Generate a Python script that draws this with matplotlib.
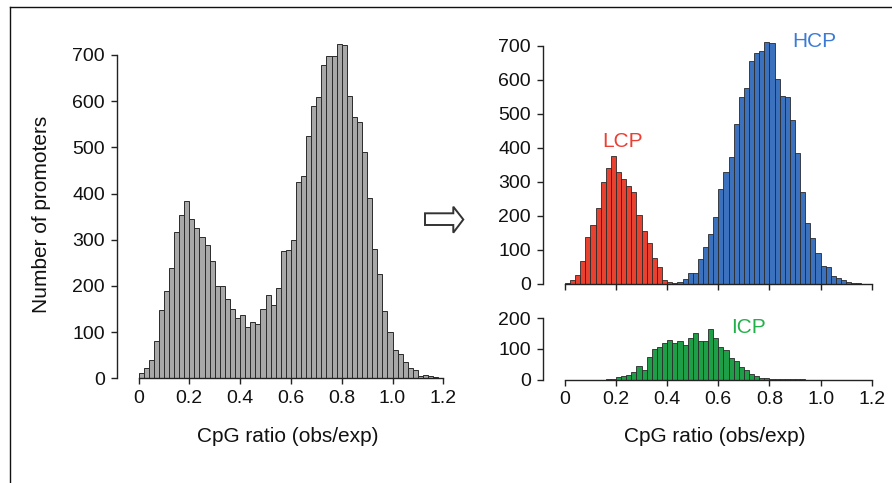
import numpy as np
import matplotlib
matplotlib.use("Agg")
import matplotlib.pyplot as plt
from matplotlib.patches import Polygon
from matplotlib.lines import Line2D

plt.rcParams['font.family'] = ['Liberation Sans', 'DejaVu Sans']

# ---- data (bins of width 0.02 from 0 to 1.2) ----
bin_width = 0.02
bin_edges = np.round(np.arange(0, 1.2 + 1e-9, bin_width), 2)
bin_starts = bin_edges[:-1]

all_counts = [11, 22, 40, 80, 148, 188, 238, 316, 354, 384,
              344, 325, 305, 289, 253, 199, 199, 171, 150, 130,
              137, 110, 121, 118, 150, 180, 159, 196, 276, 278,
              299, 426, 439, 525, 590, 610, 678, 697, 697, 724,
              722, 612, 566, 554, 491, 390, 281, 225, 145, 101,
              61, 53, 35, 22, 18, 4, 7, 4, 2, 1]

lcp_counts = [4, 12, 27, 69, 137, 175, 225, 301, 342, 377,
              328, 308, 289, 272, 203, 155, 120, 76, 49, 13,
              5, 0, 0, 0, 0, 0, 0, 0, 0, 0,
              0, 0, 0, 0, 0, 0, 0, 0, 0, 0,
              0, 0, 0, 0, 0, 0, 0, 0, 0, 0,
              0, 0, 0, 0, 0, 0, 0, 0, 0, 0]

hcp_counts = [0, 0, 0, 0, 0, 0, 0, 0, 0, 0,
              0, 0, 0, 0, 0, 0, 0, 0, 0, 0,
              0, 2, 5, 14, 33, 33, 73, 110, 147, 196,
              278, 330, 375, 471, 549, 577, 657, 680, 686, 712,
              708, 602, 553, 549, 482, 384, 270, 180, 134, 92,
              53, 49, 25, 17, 12, 5, 2, 2, 1, 0]

icp_counts = [0, 0, 0, 0, 0, 0, 0, 0, 2, 1,
              7, 11, 15, 24, 43, 32, 75, 98, 105, 118,
              130, 118, 126, 112, 137, 153, 126, 126, 166, 135,
              107, 96, 69, 59, 41, 30, 18, 11, 6, 5,
              3, 3, 2, 2, 1, 1, 1, 0, 0, 0,
              0, 0, 0, 0, 0, 0, 0, 0, 0, 0]

x_ticks = [0, 0.2, 0.4, 0.6, 0.8, 1.0, 1.2]
x_tick_labels = ['0', '0.2', '0.4', '0.6', '0.8', '1.0', '1.2']
y_ticks_main = [0, 100, 200, 300, 400, 500, 600, 700]
y_ticks_icp = [0, 100, 200]
x_label = 'CpG ratio (obs/exp)'
y_label = 'Number of promoters'

# ---- figure ----
W, H = 892, 483
fig = plt.figure(figsize=(W / 100, H / 100), dpi=100)


def axes_px(x0, x1, y_bottom, y_top):
    return fig.add_axes([x0 / W, 1 - y_bottom / H, (x1 - x0) / W, (y_bottom - y_top) / H])


TICK_FS = 14
LABEL_FS = 15
EDGE = '#2a2a2a'


def style(ax, yticks, ybound, show_xlabels=True, outward_pt=16):
    for s in ['top', 'right']:
        ax.spines[s].set_visible(False)
    ax.spines['left'].set_position(('outward', outward_pt))
    ax.spines['left'].set_bounds(ybound[0], ybound[1])
    ax.spines['bottom'].set_bounds(0, 1.2)
    for s in ['left', 'bottom']:
        ax.spines[s].set_color('#222222')
        ax.spines[s].set_linewidth(1.0)
    ax.set_xticks(x_ticks)
    if show_xlabels:
        ax.set_xticklabels(x_tick_labels)
    else:
        ax.set_xticklabels([])
    ax.set_yticks(yticks)
    ax.set_yticklabels([str(v) for v in yticks])
    ax.tick_params(direction='out', length=4.5, width=1.0, colors='#222222',
                   labelsize=TICK_FS, pad=4, labelcolor='#111111')
    ax.set_facecolor('none')


# Left: all promoters
ax1 = axes_px(138.5, 443.3, 378.3, 38.8)
ax1.bar(bin_starts, all_counts, width=bin_width, align='edge',
        color='#a8a8a8', edgecolor=EDGE, linewidth=0.7)
ax1.set_xlim(0, 1.2)
ax1.set_ylim(0, 735)
style(ax1, y_ticks_main, (0, 700), outward_pt=15.7)

# Right top: LCP + HCP
ax2 = axes_px(564.9, 871.7, 284.0, 34.1)
ax2.bar(bin_starts, lcp_counts, width=bin_width, align='edge',
        color='#e8412f', edgecolor=EDGE, linewidth=0.6)
ax2.bar(bin_starts, hcp_counts, width=bin_width, align='edge',
        color='#3c72bd', edgecolor=EDGE, linewidth=0.6)
ax2.set_xlim(0, 1.2)
ax2.set_ylim(0, 735)
style(ax2, y_ticks_main, (0, 700), show_xlabels=False, outward_pt=16)

# Right bottom: ICP
ax3 = axes_px(564.9, 871.7, 379.5, 315.2)
ax3.bar(bin_starts, icp_counts, width=bin_width, align='edge',
        color='#1f9e48', edgecolor=EDGE, linewidth=0.6)
ax3.set_xlim(0, 1.2)
ax3.set_ylim(0, 210)
style(ax3, y_ticks_icp, (0, 200), outward_pt=16)

# Labels
fig.text(288 / W, 1 - 437 / H, x_label, ha='center', va='center', fontsize=LABEL_FS, color='#111111')
fig.text(715 / W, 1 - 437 / H, x_label, ha='center', va='center', fontsize=LABEL_FS, color='#111111')
fig.text(42 / W, 1 - 214 / H, y_label, ha='center', va='center', rotation=90,
         fontsize=LABEL_FS, color='#111111')

ax2.text(0.225, 418, 'LCP', ha='center', va='center', fontsize=LABEL_FS, color='#ee3d32')
ax2.text(0.975, 712, 'HCP', ha='center', va='center', fontsize=LABEL_FS, color='#3b7bd6')
ax3.text(0.72, 170, 'ICP', ha='center', va='center', fontsize=LABEL_FS, color='#22b04b')

# Hollow arrow
arrow_px = [(425, 213.3), (453.3, 213.3), (453.3, 206.7), (463.3, 219.5),
            (453.3, 232.7), (453.3, 225.0), (425, 225.0)]
arrow = Polygon([(x / W, 1 - y / H) for x, y in arrow_px], closed=True,
                facecolor='white', edgecolor='#333333', linewidth=1.4,
                transform=fig.transFigure)
fig.patches.append(arrow)

# Frame lines (top and left)
fig.lines.append(Line2D([10 / W, 1.0], [1 - 7 / H, 1 - 7 / H], transform=fig.transFigure,
                        color='#111111', linewidth=1.0))
fig.lines.append(Line2D([10 / W, 10 / W], [1 - 7 / H, 0], transform=fig.transFigure,
                        color='#111111', linewidth=1.0))

fig.savefig('out.png', dpi=100)
